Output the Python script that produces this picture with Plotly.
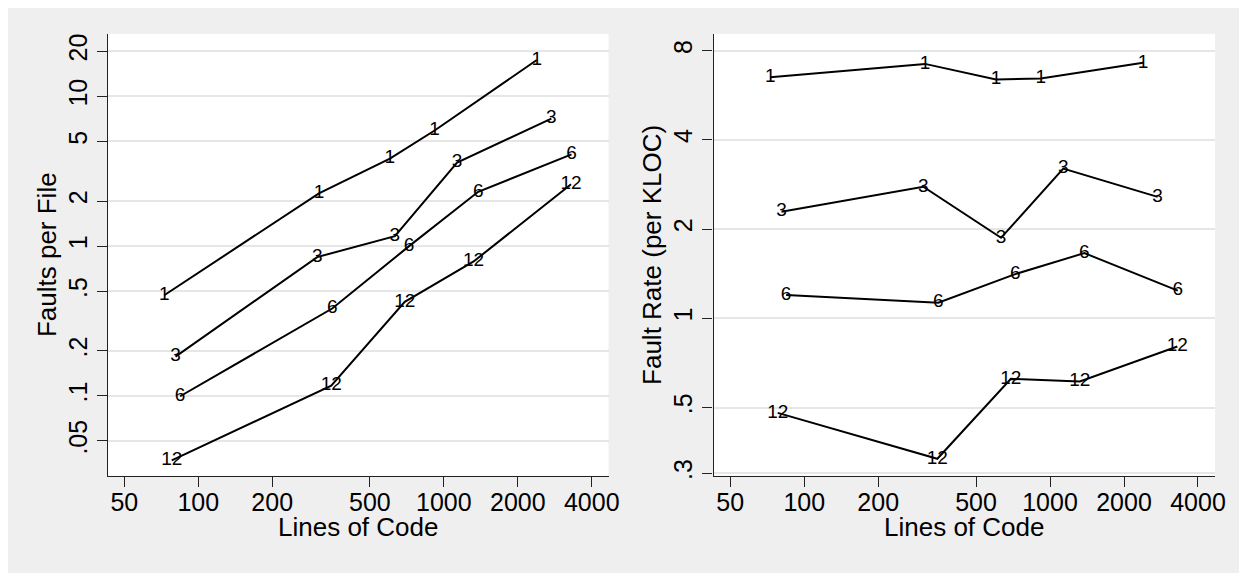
import plotly.graph_objects as go
from plotly.subplots import make_subplots

# ---- data ----
series_labels = ["1", "3", "6", "12"]
loc_1 = [72.7, 310, 603, 917, 2390]
loc_3 = [80.8, 305, 632, 1132, 2740]
loc_6 = [84.4, 351, 722, 1380, 3310]
loc_12 = [78, 348, 693, 1322, 3296]

faults_per_file_1 = [0.47, 2.25, 3.84, 5.92, 17.5]
faults_per_file_3 = [0.183, 0.845, 1.165, 3.61, 7.11]
faults_per_file_6 = [0.0994, 0.383, 1.0, 2.305, 4.10]
faults_per_file_12 = [0.0371, 0.117, 0.425, 0.79, 2.59]

fault_rate_1 = [6.51, 7.22, 6.40, 6.45, 7.28]
fault_rate_3 = [2.29, 2.78, 1.87, 3.20, 2.57]
fault_rate_6 = [1.20, 1.13, 1.41, 1.66, 1.24]
fault_rate_12 = [0.48, 0.336, 0.625, 0.613, 0.804]

x_ticks = [50, 100, 200, 500, 1000, 2000, 4000]
x_ticktext = ["50", "100", "200", "500", "1000", "2000", "4000"]
y1_ticks = [0.05, 0.1, 0.2, 0.5, 1, 2, 5, 10, 20]
y1_ticktext = [".05", ".1", ".2", ".5", "1", "2", "5", "10", "20"]
y2_ticks = [0.3, 0.5, 1, 2, 4, 8]
y2_ticktext = [".3", ".5", "1", "2", "4", "8"]

OFF = 8  # page body margin around the figure
W, H = 1247 - 2 * OFF, 581 - 2 * OFF
FONT = "Liberation Sans, Arial, Helvetica, sans-serif"
BG = "#EFEFEF"
GRID = "#E6E6E6"


def px(x):
    return (x - OFF) / W


def py(y):
    return 1 - (y - OFF) / H


locs = [loc_1, loc_3, loc_6, loc_12]
fpf = [faults_per_file_1, faults_per_file_3, faults_per_file_6, faults_per_file_12]
rate = [fault_rate_1, fault_rate_3, fault_rate_6, fault_rate_12]

fig = make_subplots(rows=1, cols=2)

for col, values in ((1, fpf), (2, rate)):
    for lab, xs, ys in zip(series_labels, locs, values):
        fig.add_trace(go.Scatter(
            x=xs, y=ys, mode="lines+text", text=[lab] * len(xs),
            textposition="middle center",
            textfont=dict(family=FONT, size=19, color="black"),
            line=dict(color="black", width=2), showlegend=False,
            hoverinfo="skip"), row=1, col=col)

xd1 = [px(109), px(614)]
xd2 = [px(720), px(1226)]
yd = [py(479), py(34)]

common_x = dict(type="log", tickvals=x_ticks, ticktext=x_ticktext,
                showgrid=False, zeroline=False, showline=True,
                linecolor="#222222", linewidth=1.3, ticks="outside",
                ticklen=10, tickwidth=1.3, tickcolor="#222222",
                ticklabelstandoff=-6,
                tickfont=dict(family=FONT, size=25, color="black"),
                mirror=False)
common_y = dict(type="log", showgrid=True, gridcolor=GRID, gridwidth=1.5,
                zeroline=False, showline=True, linecolor="#222222",
                linewidth=1.3, ticks="outside", ticklen=10, tickwidth=1.3,
                tickcolor="#222222", tickangle=-90,
                tickfont=dict(family=FONT, size=25, color="black"),
                mirror=False)

fig.update_layout(
    width=W, height=H,
    margin=dict(l=0, r=0, t=0, b=0),
    paper_bgcolor=BG, plot_bgcolor="white",
    xaxis=dict(domain=xd1, range=[1.633, 3.6707], **common_x),
    xaxis2=dict(domain=xd2, range=[1.6314, 3.6717], **common_x),
    yaxis=dict(domain=yd, range=[-1.533, 1.418], tickvals=y1_ticks,
               ticktext=y1_ticktext, **common_y),
    yaxis2=dict(domain=yd, range=[-0.5306, 0.96], tickvals=y2_ticks,
                ticktext=y2_ticktext, anchor="x2", **common_y),
)

title_font = dict(family=FONT, size=26, color="black")
fig.add_annotation(text="Lines of Code", xref="paper", yref="paper",
                   x=px(361.5), y=py(530.5), showarrow=False,
                   xanchor="center", yanchor="middle", font=title_font)
fig.add_annotation(text="Lines of Code", xref="paper", yref="paper",
                   x=px(973), y=py(530.5), showarrow=False,
                   xanchor="center", yanchor="middle", font=title_font)
fig.add_annotation(text="Faults per File", xref="paper", yref="paper",
                   x=px(46.7), y=py(256.5), showarrow=False, textangle=-90,
                   xanchor="center", yanchor="middle", font=title_font)
fig.add_annotation(text="Fault Rate (per KLOC)", xref="paper", yref="paper",
                   x=px(658), y=py(256.5), showarrow=False, textangle=-90,
                   xanchor="center", yanchor="middle", font=title_font)

fig.write_html("out.html")
